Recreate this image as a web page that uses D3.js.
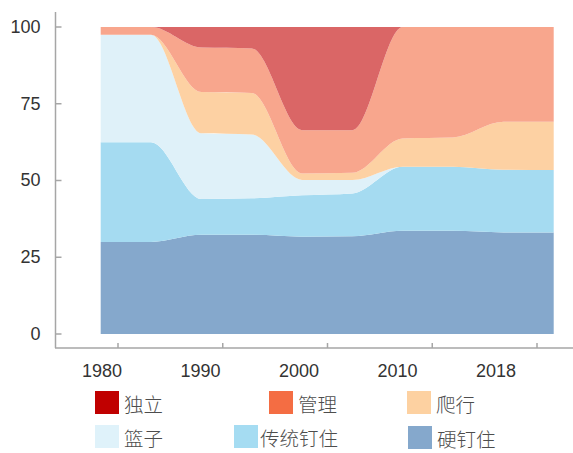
<!DOCTYPE html>
<html>
<head>
<meta charset="utf-8">
<script src="https://cdn.jsdelivr.net/npm/d3@7"></script>
<style>
  body { margin: 0; background: #fff; }
  svg { display: block; }
  .axis-label { font-family: "Liberation Sans", Arial, sans-serif; font-size: 18px; fill: #333; }
  .legend-label { font-family: "Noto Sans CJK SC", sans-serif; font-size: 19.5px; font-weight: 300; fill: #4d4d4d; }
</style>
</head>
<body>
<div id="chart"></div>
<script>
// data points (share of countries, %)
var years = ["1980", "1985", "1990", "1995", "2000", "2005", "2010", "2014", "2018", "2022"];
var hardPeg     = [30.0, 30.0, 32.3, 32.3, 31.7, 31.8, 33.6, 33.6, 33.1, 33.1];
var conventional = [32.5, 32.5, 11.7, 11.9, 13.5, 14.0, 20.9, 20.9, 20.4, 20.3];
var basket      = [35.0, 35.0, 21.4, 20.8,  5.0,  4.4,  0.0,  0.0,  0.0,  0.0];
var crawling    = [ 0.0,  0.0, 13.4, 13.5,  2.1,  2.3,  9.2,  9.5, 15.6, 15.7];
var managed     = [ 2.5,  2.5, 14.5, 14.5, 14.1, 13.9, 36.3, 36.0, 30.9, 30.9];
var independent = [ 0.0,  0.0,  6.7,  7.0, 33.6, 33.6,  0.0,  0.0,  0.0,  0.0];

var xLabels = ["1980", "1990", "2000", "2010", "2018"];
var yTicks = [0, 25, 50, 75, 100];

// stacking order, bottom to top
var keys = ["硬钉住", "传统钉住", "篮子", "爬行", "管理", "独立"];
var seriesValues = [hardPeg, conventional, basket, crawling, managed, independent];

var areaColors = d3.scaleOrdinal()
    .domain(keys)
    .range(["#85a8cc", "#a5dbf1", "#dff1f9", "#fdd1a3", "#f8a68d", "#da6666"]);
var legendColors = d3.scaleOrdinal()
    .domain(keys)
    .range(["#85a8cc", "#a5dcf2", "#dff2fa", "#fdd1a1", "#f46d43", "#c00000"]);

var width = 573, height = 453;

var rows = years.map(function (yr, i) {
    var row = { year: yr };
    keys.forEach(function (k, j) { row[k] = seriesValues[j][i]; });
    return row;
});

var svg = d3.select("#chart").append("svg")
    .attr("width", width)
    .attr("height", height);

var x = d3.scalePoint().domain(years).range([100.7, 553.7]);
var xTick = d3.scalePoint().domain(xLabels).range([118, 537]);
var xLab = d3.scalePoint().domain(xLabels).range([102, 496]);
var y = d3.scaleLinear().domain([0, 100]).range([334, 27]);

var stack = d3.stack().keys(keys);
var stacked = stack(rows);

var area = d3.area()
    .x(function (d) { return x(d.data.year); })
    .y0(function (d) { return y(d[0]); })
    .y1(function (d) { return y(d[1]); })
    .curve(d3.curveMonotoneX);

svg.append("g")
    .selectAll("path")
    .data(stacked)
    .enter().append("path")
    .attr("d", area)
    .attr("fill", function (d) { return areaColors(d.key); });

// axes
var axisColor = "#a6a6a6";
var yTop = 12, xAxisY = 348;

var yAxis = svg.append("g").attr("transform", "translate(55.5,0)");
yAxis.append("line")
    .attr("y1", yTop).attr("y2", xAxisY)
    .attr("stroke", axisColor).attr("stroke-width", 1.5);
yAxis.selectAll(".tick")
    .data(yTicks)
    .enter().append("line")
    .attr("x1", 0).attr("x2", 6)
    .attr("y1", function (d) { return y(d); })
    .attr("y2", function (d) { return y(d); })
    .attr("stroke", axisColor).attr("stroke-width", 1.5);
yAxis.selectAll("text")
    .data(yTicks)
    .enter().append("text")
    .attr("class", "axis-label")
    .attr("x", -15)
    .attr("y", function (d) { return y(d); })
    .attr("dy", "0.33em")
    .attr("text-anchor", "end")
    .text(function (d) { return d; });

var xAxis = svg.append("g").attr("transform", "translate(0," + xAxisY + ")");
xAxis.append("line")
    .attr("x1", 55).attr("x2", width)
    .attr("stroke", axisColor).attr("stroke-width", 1.5);
xAxis.selectAll(".tick")
    .data(xLabels)
    .enter().append("line")
    .attr("x1", function (d) { return xTick(d); })
    .attr("x2", function (d) { return xTick(d); })
    .attr("y1", 0).attr("y2", -5)
    .attr("stroke", axisColor).attr("stroke-width", 1.5);
xAxis.selectAll("text")
    .data(xLabels)
    .enter().append("text")
    .attr("class", "axis-label")
    .attr("x", function (d) { return xLab(d); })
    .attr("y", 29)
    .attr("text-anchor", "middle")
    .text(function (d) { return d; });

// legend: two rows of three
var legendOrder = ["独立", "管理", "爬行", "篮子", "传统钉住", "硬钉住"];
var legendPos = {
    "独立": [95, 391], "管理": [269, 391], "爬行": [407, 391],
    "篮子": [95, 425], "传统钉住": [234, 425], "硬钉住": [408, 426]
};
var legend = svg.append("g");
var item = legend.selectAll("g")
    .data(legendOrder)
    .enter().append("g")
    .attr("transform", function (d) { return "translate(" + legendPos[d][0] + "," + legendPos[d][1] + ")"; });
item.append("rect")
    .attr("width", 24).attr("height", 23)
    .attr("fill", function (d) { return legendColors(d); });
item.append("text")
    .attr("class", "legend-label")
    .attr("x", function (d) { return d === "传统钉住" ? 26 : 29; })
    .attr("y", 21)
    .text(function (d) { return d; });
</script>
</body>
</html>
